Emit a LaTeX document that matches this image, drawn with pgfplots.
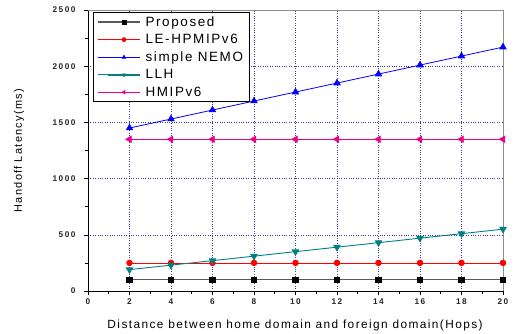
\documentclass[border=0pt]{standalone}
\usepackage{fontspec}
\setmainfont{Liberation Sans}
\usepackage{pgfplots}
\pgfplotsset{compat=1.18}
\newfontfamily\spaced[LetterSpace=12]{Liberation Sans}
\newfontfamily\tickfont[LetterSpace=18]{Liberation Sans}
\definecolor{teal2}{RGB}{0,128,128}
\definecolor{gridblue}{RGB}{60,60,170}
\begin{document}
\begin{tikzpicture}[x=1bp,y=1bp]
\begin{axis}[
  at={(0,0)}, anchor=south west,
  scale only axis,
  width=415bp, height=281bp,
  xmin=0, xmax=20, ymin=0, ymax=2500,
  xtick={0,2,...,20}, ytick={0,500,...,2500},
  minor x tick num=1, minor y tick num=1,
  tick align=outside,
  major tick length=4bp, minor tick length=3bp,
  tick style={black, line width=0.6pt},
  axis x line*=bottom, axis y line*=left,
  axis line style={black, line width=0.9pt, -},
  grid=major,
  major grid style={gridblue, dotted, line width=0.6pt},
  ticklabel style={font=\tickfont\bfseries\fontsize{8.3}{10}\selectfont, text=black!85},
  yticklabel style={xshift=-5bp},
  /pgf/number format/assume math mode=true,
  /pgf/number format/set thousands separator={},
  xlabel={\spaced\fontsize{11.9}{13}\selectfont Distance between home domain and foreign domain(Hops)},
  ylabel={\spaced\fontsize{11}{13}\selectfont Handoff Latency(ms)},
  xlabel style={at={(axis description cs:0.499,-0.121)}, anchor=center},
  ylabel style={at={(axis description cs:-0.166,0.5)}, anchor=center},
  legend style={at={(rel axis cs:0.012,0.993)}, anchor=north west,
    draw=black, line width=0.8pt, fill=white,
    font=\spaced\fontsize{13.5}{15}\selectfont,
    row sep=2.6bp, inner xsep=4bp, inner ysep=2bp},
  legend cell align=left,
  legend image code/.code={
    \path (-10bp,0bp) -- (32bp,0bp);
    \draw[mark repeat=2,mark phase=2,#1,line width=0.7pt,mark size=2bp]
      plot coordinates {(0bp,0bp) (16bp,0bp) (32bp,0bp)};},
  clip=false,
]
\addplot[black!65, line width=1.2pt, mark=square*, mark size=2.6bp,
  mark options={black, solid}]
  coordinates {(2,100) (4,100) (6,100) (8,100) (10,100) (12,100) (14,100) (16,100) (18,100) (20,100)};
\addplot[red, line width=0.8pt, mark=*, mark size=2.8bp, mark options={red}]
  coordinates {(2,250) (4,250) (6,250) (8,250) (10,250) (12,250) (14,250) (16,250) (18,250) (20,250)};
\addplot[blue, line width=0.8pt, mark=triangle*, mark size=3.6bp, mark options={blue}]
  coordinates {(2,1450) (4,1530) (6,1610) (8,1690) (10,1770) (12,1850) (14,1930) (16,2010) (18,2090) (20,2170)};
\addplot[teal2, line width=0.9pt, mark=triangle*, mark size=3.6bp, mark options={teal2, rotate=180}]
  coordinates {(2,190) (4,230) (6,270) (8,310) (10,350) (12,390) (14,430) (16,470) (18,510) (20,550)};
\addplot[magenta, line width=0.8pt, mark=triangle*, mark size=3.6bp, mark options={magenta, rotate=90}]
  coordinates {(2,1350) (4,1350) (6,1350) (8,1350) (10,1350) (12,1350) (14,1350) (16,1350) (18,1350) (20,1350)};
\legend{\hspace*{3bp}Proposed, \hspace*{3bp}LE-HPMIPv6, \hspace*{3bp}simple NEMO, \hspace*{3bp}LLH, \hspace*{3bp}HMIPv6}
\draw[black!45, line width=0.9pt] (rel axis cs:0,1) -- (rel axis cs:1,1) -- (rel axis cs:1,0);
\end{axis}
\pgfresetboundingbox
\path (-88bp,-43bp) rectangle (427bp,291bp);
\end{tikzpicture}
\end{document}
